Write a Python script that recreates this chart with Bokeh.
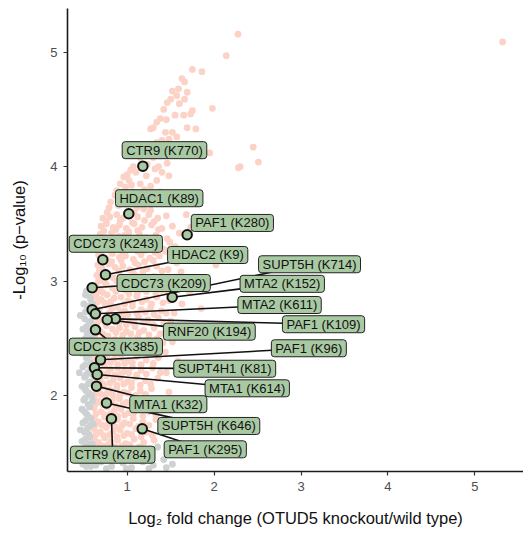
from bokeh.plotting import figure
from bokeh.models import ColumnDataSource, FixedTicker
from bokeh.embed import file_html
from bokeh.resources import INLINE
from bokeh.core.properties import value

# ---------------- data ----------------
# significant background sites (salmon)
sig_x = [2.275, 2.14, 1.75, 1.86, 1.63, 1.66, 1.59, 1.69, 1.57, 1.66, 1.50, 1.46, 1.98, 1.75, 1.73, 1.42,
         1.65, 1.38, 1.45, 1.34, 1.30, 1.27, 1.69, 1.79, 1.57, 1.48, 1.40, 1.34, 1.29, 1.25, 2.45, 1.95,
         2.51, 2.30, 2.28, 1.46, 1.36, 1.32, 1.23, 1.15, 1.07, 1.04, 1.00, 0.96, 1.48, 1.34, 1.27, 1.15,
         0.92, 0.88, 0.86, 0.81, 0.79, 0.77, 1.38, 1.30, 1.23, 1.19, 1.11, 1.68, 5.32,
         1.20, 1.10, 1.02, 0.98, 1.06, 1.12, 0.94, 1.00, 0.90, 1.20,
         1.08, 1.17, 1.27, 1.05, 1.22, 1.40, 1.30, 1.38, 1.20, 1.52, 1.44, 1.55, 1.60, 1.52,
         0.72, 0.80, 0.88, 0.95, 1.03, 1.12, 1.25, 1.35, 1.45,
         0.76, 0.92, 1.06, 1.20, 1.31,
         0.70, 0.76, 0.84, 0.91, 0.99, 1.08, 1.17, 1.28, 1.40, 1.52, 1.73,
         0.73, 0.87, 1.02, 1.12, 1.36,
         0.69, 0.74, 0.82, 0.90, 0.97, 1.05, 1.14, 1.22, 1.33, 1.46, 1.60,
         0.71, 0.85, 0.99, 1.15, 1.26, 1.49,
         0.68, 0.73, 0.80, 0.87, 0.94, 1.01, 1.10, 1.19, 1.30, 1.42, 1.55, 1.86,
         0.70, 0.80, 0.95, 1.12, 1.21, 1.32, 1.44,
         0.67, 0.76, 0.83, 0.91, 0.98, 1.07, 1.16, 1.26, 1.37, 1.50, 1.65, 2.02,
         0.69, 0.82, 0.93, 1.09, 1.20, 1.30, 1.57,
         0.66, 0.71, 0.79, 0.86, 0.95, 1.03, 1.13, 1.23, 1.34, 1.47, 1.62,
         0.68, 0.75, 0.90, 1.07, 1.18, 1.40,
         0.65, 0.70, 0.78, 0.84, 0.92, 1.00, 1.09, 1.20, 1.31, 1.44, 1.58, 1.78,
         0.67, 0.74, 0.88, 1.04, 1.14, 1.25, 1.36,
         0.64, 0.69, 0.76, 0.83, 0.90, 0.98, 1.07, 1.17, 1.28, 1.40, 1.55, 1.72,
         0.66, 0.72, 0.87, 1.02, 1.12, 1.22, 1.33, 1.47,
         0.64, 0.70, 0.77, 0.85, 0.93, 1.01, 1.11, 1.22, 1.34, 1.48, 1.63,
         0.66, 0.74, 0.81, 0.97, 1.06, 1.17, 1.28, 1.41,
         0.63, 0.68, 0.75, 0.82, 0.89, 0.97, 1.06, 1.16, 1.27, 1.39, 1.54, 1.85,
         0.65, 0.79, 0.93, 1.01, 1.11, 1.21, 1.31, 1.45,
         0.63, 0.72, 0.79, 0.87, 0.95, 1.03, 1.13, 1.24, 1.36, 1.50,
         0.66, 0.75, 0.91, 0.99, 1.08, 1.19, 1.30, 1.42,
         0.63, 0.68, 0.76, 0.83, 0.91, 0.99, 1.09, 1.19, 1.31, 1.45, 1.66,
         0.65, 0.72, 0.87, 0.95, 1.04, 1.14, 1.25, 1.38,
         0.63, 0.71, 0.78, 0.86, 0.94, 1.02, 1.12, 1.23, 1.35, 1.52,
         0.65, 0.74, 0.82, 0.90, 0.98, 1.07, 1.17, 1.29, 1.41,
         0.62, 0.68, 0.75, 0.82, 0.90, 0.98, 1.07, 1.17, 1.29, 1.44,
         0.65, 0.72, 0.79, 0.86, 0.94, 1.03, 1.12, 1.24,
         0.62, 0.70, 0.77, 0.85, 0.93, 1.01, 1.11, 1.22, 1.36, 1.58,
         0.65, 0.73, 0.81, 0.89, 0.97, 1.06, 1.16, 1.30,
         0.62, 0.67, 0.74, 0.81, 0.89, 0.97, 1.06, 1.16, 1.29, 1.45,
         0.64, 0.71, 0.78, 0.86, 0.93, 1.02, 1.11, 1.22, 1.38,
         0.62, 0.69, 0.76, 0.84, 0.92, 1.00, 1.10, 1.21, 1.35,
         0.64, 0.72, 0.80, 0.88, 0.96, 1.05, 1.15, 1.27,
         0.62, 0.67, 0.73, 0.80, 0.88, 0.96, 1.05, 1.15, 1.28, 1.48,
         0.64, 0.70, 0.77, 0.84, 0.92, 1.01, 1.10, 1.21,
         0.62, 0.68, 0.75, 0.83, 0.91, 0.99, 1.09, 1.20, 1.34,
         0.64, 0.72, 0.80, 0.87, 0.95, 1.04, 1.14, 1.27,
         0.62, 0.70, 0.77, 0.85, 0.93, 1.02, 1.12, 1.25, 1.42,
         0.64, 0.74, 0.81, 0.89, 0.97, 1.07, 1.18, 1.33,
         0.62, 0.67, 0.74, 0.81, 0.89, 0.97, 1.07, 1.18, 1.33,
         0.64, 0.71, 0.78, 0.86, 0.94, 1.03, 1.13, 1.25,
         0.62, 0.69, 0.76, 0.84, 0.92, 1.00, 1.10, 1.22, 1.38,
         0.64, 0.73, 0.80, 0.88, 0.96, 1.05, 1.16, 1.29,
         0.62, 0.67, 0.74, 0.81, 0.89, 0.98, 1.08, 1.19, 1.31,
         0.65, 0.71, 0.78, 0.86, 0.94, 1.03, 1.14,
         0.63, 0.70, 0.77, 0.85, 0.93, 1.02, 1.13, 1.26,
         0.66, 0.74, 0.82, 0.90, 0.98, 1.08, 1.19]
sig_y = [5.158, 4.97, 4.85, 4.83, 4.77, 4.74, 4.68, 4.65, 4.62, 4.59, 4.59, 4.56, 4.51, 4.49, 4.46, 4.50,
         4.45, 4.42, 4.41, 4.39, 4.34, 4.33, 4.34, 4.33, 4.26, 4.24, 4.23, 4.21, 4.18, 4.15, 4.17, 4.12,
         4.04, 4.00, 3.99, 4.03, 4.00, 3.98, 4.02, 4.08, 4.00, 3.97, 3.93, 3.91, 3.92, 3.88, 3.83, 3.85,
         3.85, 3.79, 3.75, 3.69, 3.64, 3.60, 3.78, 3.73, 3.69, 3.63, 3.64, 3.58, 5.09,
         4.10, 3.95, 3.88, 3.82, 3.78, 3.74, 3.72, 3.68, 3.66, 3.80,
         3.60, 3.68, 3.62, 3.84, 3.92, 3.95, 4.08, 4.13, 4.00, 4.30, 4.30, 4.45, 4.55, 4.66,
         3.55, 3.56, 3.58, 3.55, 3.57, 3.56, 3.58, 3.55, 3.57,
         3.52, 3.53, 3.51, 3.53, 3.52,
         3.48, 3.50, 3.47, 3.49, 3.46, 3.50, 3.47, 3.49, 3.46, 3.48, 3.47,
         3.44, 3.45, 3.43, 3.44, 3.45,
         3.41, 3.38, 3.42, 3.39, 3.40, 3.37, 3.41, 3.38, 3.40, 3.37, 3.42,
         3.35, 3.36, 3.34, 3.35, 3.36, 3.34,
         3.32, 3.29, 3.33, 3.30, 3.31, 3.28, 3.32, 3.29, 3.31, 3.28, 3.30, 3.22,
         3.26, 3.27, 3.25, 3.26, 3.27, 3.25, 3.26,
         3.23, 3.20, 3.24, 3.21, 3.22, 3.19, 3.23, 3.20, 3.22, 3.19, 3.24, 3.14,
         3.18, 3.17, 3.18, 3.16, 3.17, 3.18, 3.16,
         3.14, 3.11, 3.15, 3.12, 3.13, 3.10, 3.14, 3.11, 3.13, 3.10, 3.08,
         3.09, 3.08, 3.09, 3.07, 3.08, 3.09,
         3.05, 3.02, 3.06, 3.03, 3.04, 3.01, 3.05, 3.02, 3.04, 3.01, 3.03, 3.00,
         3.00, 2.99, 3.00, 2.98, 2.99, 3.00, 2.98,
         2.96, 2.93, 2.97, 2.94, 2.95, 2.92, 2.96, 2.93, 2.95, 2.92, 2.94, 2.90,
         2.91, 2.90, 2.91, 2.89, 2.90, 2.91, 2.89, 2.90,
         2.87, 2.84, 2.88, 2.85, 2.86, 2.83, 2.87, 2.84, 2.86, 2.83, 2.80,
         2.82, 2.81, 2.82, 2.80, 2.81, 2.82, 2.80, 2.81,
         2.78, 2.75, 2.79, 2.76, 2.77, 2.74, 2.78, 2.75, 2.77, 2.74, 2.72, 2.76,
         2.73, 2.72, 2.73, 2.71, 2.72, 2.73, 2.71, 2.72,
         2.69, 2.66, 2.70, 2.67, 2.68, 2.65, 2.69, 2.66, 2.68, 2.65,
         2.64, 2.63, 2.64, 2.62, 2.63, 2.64, 2.62, 2.63,
         2.60, 2.57, 2.61, 2.58, 2.59, 2.56, 2.60, 2.57, 2.59, 2.56, 2.58,
         2.55, 2.54, 2.55, 2.53, 2.54, 2.55, 2.53, 2.54,
         2.51, 2.48, 2.52, 2.49, 2.50, 2.47, 2.51, 2.48, 2.50, 2.47,
         2.46, 2.45, 2.46, 2.44, 2.45, 2.46, 2.44, 2.45, 2.46,
         2.43, 2.40, 2.44, 2.41, 2.42, 2.39, 2.43, 2.40, 2.42, 2.38,
         2.38, 2.37, 2.38, 2.36, 2.37, 2.38, 2.36, 2.37,
         2.34, 2.31, 2.35, 2.32, 2.33, 2.30, 2.34, 2.31, 2.33, 2.30,
         2.29, 2.28, 2.29, 2.27, 2.28, 2.29, 2.27, 2.28,
         2.25, 2.22, 2.26, 2.23, 2.24, 2.21, 2.25, 2.22, 2.24, 2.20,
         2.20, 2.19, 2.20, 2.18, 2.19, 2.20, 2.18, 2.19, 2.20,
         2.16, 2.13, 2.17, 2.14, 2.15, 2.12, 2.16, 2.13, 2.15,
         2.11, 2.10, 2.11, 2.09, 2.10, 2.11, 2.09, 2.10,
         2.07, 2.04, 2.08, 2.05, 2.06, 2.03, 2.07, 2.04, 2.06, 2.03,
         2.02, 2.01, 2.02, 2.00, 2.01, 2.02, 2.00, 2.01,
         1.98, 1.95, 1.99, 1.96, 1.97, 1.94, 1.98, 1.95, 1.97,
         1.93, 1.92, 1.93, 1.91, 1.92, 1.93, 1.91, 1.92,
         1.89, 1.86, 1.90, 1.87, 1.88, 1.85, 1.89, 1.86, 1.88,
         1.84, 1.83, 1.84, 1.82, 1.83, 1.84, 1.82, 1.83,
         1.80, 1.77, 1.81, 1.78, 1.79, 1.76, 1.80, 1.77, 1.79,
         1.75, 1.74, 1.75, 1.73, 1.74, 1.75, 1.73, 1.74,
         1.71, 1.68, 1.72, 1.69, 1.70, 1.67, 1.71, 1.68, 1.70,
         1.66, 1.65, 1.66, 1.64, 1.65, 1.66, 1.64, 1.65,
         1.62, 1.59, 1.63, 1.60, 1.61, 1.58, 1.62, 1.59, 1.61,
         1.57, 1.56, 1.57, 1.55, 1.56, 1.57, 1.55,
         1.53, 1.50, 1.54, 1.51, 1.52, 1.49, 1.53, 1.50,
         1.45, 1.46, 1.44, 1.45, 1.46, 1.44, 1.45]

# non-significant background sites (grey)
ns_x = [0.56, 0.52, 0.58, 0.50, 0.55, 0.59, 0.51, 0.56, 0.49, 0.54, 0.59, 0.50, 0.56, 0.48, 0.53, 0.58,
        0.49, 0.55, 0.51, 0.57, 0.48, 0.53, 0.59, 0.50, 0.55, 0.48, 0.53, 0.58, 0.49, 0.55, 0.51, 0.57,
        0.48, 0.53, 0.59, 0.50, 0.55, 0.49, 0.58,
        0.60, 0.61, 0.60, 0.61, 0.60, 0.61, 0.60, 0.46, 0.45, 0.46, 0.45,
        0.53, 0.57, 0.54, 0.52, 0.58, 0.53, 0.57, 0.52, 0.54, 0.51, 0.56, 0.52, 0.58, 0.53, 0.55, 0.51,
        0.56, 0.52, 0.57, 0.51, 0.55, 0.52, 0.58, 0.53, 0.56, 0.52, 0.57, 0.51, 0.56, 0.52, 0.57, 0.53,
        0.70, 0.82, 0.95, 1.05, 1.18, 1.30, 1.42, 1.35, 1.12, 0.88, 0.76, 1.52,
        0.64, 0.60, 0.99, 1.25, 1.45, 0.68]
ns_y = [2.93, 2.88, 2.84, 2.80, 2.76, 2.71, 2.67, 2.63, 2.58, 2.54, 2.50, 2.46, 2.42, 2.37, 2.33, 2.29,
        2.25, 2.20, 2.16, 2.12, 2.08, 2.04, 2.00, 1.96, 1.92, 1.88, 1.84, 1.80, 1.76, 1.72, 1.68, 1.64,
        1.60, 1.56, 1.52, 1.48, 1.44, 1.40, 1.38,
        2.80, 2.60, 2.38, 2.18, 1.95, 1.75, 1.57, 2.70, 2.20, 1.70, 1.50,
        2.91, 2.86, 2.78, 2.73, 2.65, 2.60, 2.56, 2.50, 2.44, 2.40, 2.35, 2.27, 2.23, 2.18, 2.10, 2.06,
        2.02, 1.98, 1.90, 1.86, 1.82, 1.78, 1.74, 1.70, 1.66, 1.62, 1.58, 1.54, 1.50, 1.46, 1.42, 1.38,
        1.42, 1.38, 1.41, 1.37, 1.42, 1.39, 1.44, 1.55, 1.45, 1.46, 1.36, 1.40,
        1.39, 1.44, 1.36, 1.36, 1.37, 1.48]

# highlighted ubiquitination sites
site_names = ["CTR9 (K770)", "HDAC1 (K89)", "PAF1 (K280)", "CDC73 (K243)", "HDAC2 (K9)",
              "SUPT5H (K714)", "CDC73 (K209)", "MTA2 (K152)", "MTA2 (K611)", "PAF1 (K109)",
              "RNF20 (K194)", "CDC73 (K385)", "PAF1 (K96)", "SUPT4H1 (K81)", "MTA1 (K614)",
              "MTA1 (K32)", "SUPT5H (K646)", "CTR9 (K784)", "PAF1 (K295)"]
site_x = [1.180, 1.018, 1.690, 0.719, 0.750, 0.597, 0.597, 1.518, 0.635, 0.865,
          0.770, 0.635, 0.693, 0.624, 0.655, 0.647, 0.762, 0.819, 1.173]
site_y = [4.004, 3.588, 3.405, 3.186, 3.055, 2.749, 2.942, 2.859, 2.714, 2.670,
          2.662, 2.574, 2.312, 2.242, 2.184, 2.082, 1.935, 1.797, 1.709]

# label layout (repelled label centres, box widths in px, whether a leader is drawn)
lab_x = [1.429, 1.368, 2.210, 0.869, 1.926, 3.098, 1.420, 2.784, 2.753, 3.259,
         1.945, 0.869, 3.090, 2.122, 2.381, 1.473, 1.939, 0.833, 1.898]
lab_y = [4.144, 3.724, 3.508, 3.326, 3.228, 3.147, 2.983, 2.976, 2.791, 2.623,
         2.558, 2.427, 2.413, 2.234, 2.063, 1.924, 1.734, 1.483, 1.530]
lab_w = [84, 86, 78, 92.7, 77.7, 100, 91.7, 83.3, 83.4, 80.6,
         91, 90.7, 73.3, 100.3, 83.3, 75.7, 101.3, 82.3, 79.3]
lab_seg = [False, False, False, False, True, True, True, True, True, True,
           True, True, True, True, True, True, True, True, True]

x_ticks = [1, 2, 3, 4, 5]
y_ticks = [2, 3, 4, 5]

# ---------------- figure ----------------
XR = (0.313, 5.56)
YR = (1.336, 5.382)
W, H = 523, 535
ML, MR, MT, MB = 67, 0, 8, 64

p = figure(width=W, height=H, x_range=XR, y_range=YR, output_backend="svg",
           toolbar_location=None, min_border_left=ML, min_border_right=MR,
           min_border_top=MT, min_border_bottom=MB)
p.outline_line_color = None
p.xgrid.visible = False
p.ygrid.visible = False
p.background_fill_color = "white"
p.border_fill_color = "white"

FONT = "Liberation Sans"
for ax in (p.xaxis, p.yaxis):
    ax.axis_line_color = "#1a1a1a"
    ax.axis_line_width = 1.6
    ax.major_tick_line_color = "#333333"
    ax.major_tick_line_width = 1.2
    ax.major_tick_out = 4
    ax.major_tick_in = 0
    ax.minor_tick_line_color = None
    ax.major_label_text_font = FONT
    ax.major_label_text_font_size = "13px"
    ax.major_label_text_color = "#4d4d4d"
    ax.major_label_standoff = 6
    ax.axis_label_text_font = FONT
    ax.axis_label_text_font_size = "16.5px"
    ax.axis_label_text_font_style = "normal"
    ax.axis_label_text_color = "#111111"

p.xaxis.ticker = FixedTicker(ticks=x_ticks)
p.yaxis.ticker = FixedTicker(ticks=y_ticks)
p.xaxis.axis_label = "Log\u2082 fold change (OTUD5 knockout/wild type)"
p.yaxis.axis_label = "-Log\u2081\u2080 (p\u2212value)"
p.xaxis.axis_label_standoff = 15
p.yaxis.axis_label_standoff = 19

# background points
p.scatter(sig_x, sig_y, size=6.8, fill_color="#fdd2c6", line_color=None)
p.scatter(ns_x, ns_y, size=6.8, fill_color="#cdd1d1", line_color=None)

# leader segments (from point toward label centre, clipped at the label box)
sx = (W - ML - MR) / (XR[1] - XR[0])
sy = (H - MT - MB) / (YR[1] - YR[0])
hh = 7.8
x0s, y0s, x1s, y1s = [], [], [], []
for px, py, cx, cy, w, show in zip(site_x, site_y, lab_x, lab_y, lab_w, lab_seg):
    if not show:
        continue
    dx = (cx - px) * sx
    dy = (cy - py) * sy
    cands = []
    if abs(dx) > 1e-9:
        cands.append((w / 2) / abs(dx))
    if abs(dy) > 1e-9:
        cands.append(hh / abs(dy))
    s = min(cands)
    if s >= 1:
        continue
    ex = cx - s * (cx - px)
    ey = cy - s * (cy - py)
    x0s.append(px); y0s.append(py); x1s.append(ex); y1s.append(ey)
p.segment(x0=x0s, y0=y0s, x1=x1s, y1=y1s, line_color="#111111", line_width=1.6)

# highlighted points
p.scatter(site_x, site_y, size=9.5, fill_color="#a9c9a3", line_color="#111111", line_width=2)

# labels
src = ColumnDataSource(dict(x=lab_x, y=lab_y, t=site_names))
p.text(x="x", y="y", text="t", source=src, text_font=value(FONT), text_font_size="13px",
       text_align="center", text_baseline="middle", text_color="#111111",
       background_fill_color="#a9c9a3", border_line_color="#222222", border_line_width=1,
       padding=(4, 1), border_radius=3)

open("out.html", "w").write(file_html(p, INLINE))
